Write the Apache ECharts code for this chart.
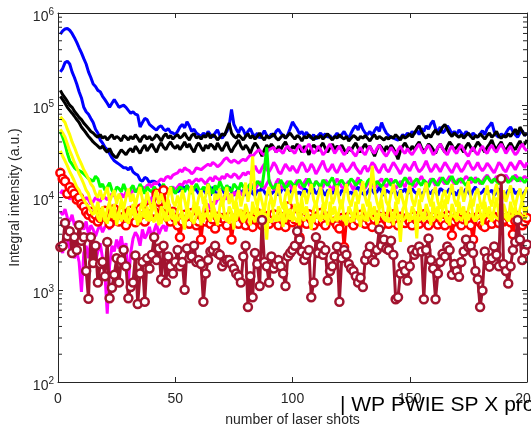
<!DOCTYPE html>
<html><head><meta charset="utf-8">
<script src="https://cdn.jsdelivr.net/npm/echarts@6/dist/echarts.min.js"></script>
<style>html,body{margin:0;padding:0;background:#fff}#c{width:531px;height:427px}</style>
</head><body><div id="c"></div>
<script>
const shots = Array.from({length: 200}, (_, i) => i + 1);

const blue1 = [590000,640000,670000,680000,650000,600000,540000,480000,420000,370000,
320000,280000,230000,200000,170000,160000,145000,140000,125000,115000,
105000,95000,105000,115000,105000,95000,98000,100000,95000,88000,
82000,85000,80000,78000,58000,65000,72000,70000,62000,59000,
56000,54000,58000,60000,55000,53000,56000,51000,50000,48000,
52000,58000,62000,57000,66000,60000,52000,55000,50000,48000,
46000,50000,47000,52000,48000,45000,50000,54000,47000,44000,
48000,52000,60000,90000,62000,55000,50000,58000,54000,47000,
52000,56000,49000,46000,50000,44000,48000,53000,47000,45000,
49000,46000,52000,55000,50000,47000,44000,48000,56000,66000,
60000,55000,49000,52000,47000,51000,46000,44000,48000,43000,
47000,50000,46000,49000,45000,47000,43000,46000,50000,45000,
48000,52000,47000,44000,50000,56000,60000,54000,64000,55000,
50000,48000,52000,47000,53000,58000,52000,65000,56000,50000,
47000,45000,44000,43000,42000,44000,48000,46000,50000,47000,
52000,49000,54000,48000,56000,52000,60000,55000,63000,68000,
56000,52000,58000,50000,53000,60000,55000,49000,52000,48000,
54000,50000,47000,52000,49000,46000,50000,47000,45000,49000,
53000,48000,56000,60000,65000,52000,47000,45000,49000,46000,
50000,55000,58000,52000,48000,45000,50000,53000,47000,50000];

const blue2 = [230000,250000,290000,300000,280000,230000,200000,170000,140000,120000,
95000,85000,80000,72000,65000,55000,50000,42000,39000,35000,
33000,30000,27000,25000,24000,23000,22000,21000,21000,20000,
21500,19000,18000,17500,15500,15000,16500,16000,14500,15000,
15000,14500,14000,13000,13000,12500,12000,12000,11500,12000,
11500,12000,13000,12500,13500,12500,11500,13000,12000,11000,
11500,12500,11000,12000,10500,13000,11500,10500,12000,12500,
11000,11500,13000,11500,10500,11500,12500,11000,12000,10500,
11500,12500,11000,10500,12000,11500,13000,11500,10500,12000,
11000,11500,12500,10500,11500,13000,12000,11000,11500,12500,
12000,11000,11500,10500,12500,12000,11000,11500,12500,11000,
11500,13000,11500,10500,12000,11500,11000,12500,11500,10500,
12000,11500,12500,11000,11500,10500,12000,13000,11500,11000,
10500,11500,12500,12000,11000,11500,13000,11500,10500,12000,
11500,11000,12500,11500,10500,12000,11500,12500,11000,11500,
12500,11500,11000,12000,10500,11500,13000,11500,11000,12000,
11500,10500,12500,12000,11000,11500,12500,11000,11500,10500,
12000,11500,11000,12500,11500,10500,12000,13000,11500,11000,
11500,12500,11000,11500,12000,10500,11500,12500,11000,11500,
10500,12000,11500,12500,11000,11500,12000,10500,11500,12500];

const black1 = [145000,130000,120000,110000,100000,95000,86000,80000,74000,70000,
64000,60000,56000,52000,50000,47000,45000,48000,44000,46000,
42000,45000,48000,43000,46000,44000,41000,47000,45000,42000,
46000,43000,48000,44000,40000,45000,47000,43000,46000,42000,
44000,48000,45000,41000,46000,49000,44000,47000,43000,46000,
48000,44000,46000,50000,45000,42000,47000,49000,44000,46000,
43000,47000,45000,50000,44000,48000,46000,42000,45000,49000,
47000,55000,64000,50000,46000,44000,48000,45000,42000,46000,
49000,44000,47000,43000,46000,50000,45000,42000,47000,44000,
46000,49000,44000,42000,45000,48000,44000,47000,50000,46000,
43000,47000,45000,41000,46000,44000,48000,45000,42000,46000,
44000,47000,43000,46000,49000,45000,42000,46000,44000,48000,
45000,43000,46000,41000,44000,47000,45000,42000,46000,44000,
47000,44000,41000,45000,48000,43000,46000,44000,42000,45000,
43000,46000,44000,48000,45000,42000,47000,44000,46000,49000,
45000,50000,55000,60000,52000,47000,44000,48000,45000,50000,
54000,48000,52000,58000,62000,55000,49000,46000,50000,47000,
45000,48000,44000,47000,50000,46000,43000,47000,45000,49000,
46000,43000,47000,50000,45000,48000,52000,46000,44000,47000,
45000,49000,46000,50000,55000,48000,58000,52000,47000,50000];

const black2 = [125000,115000,105000,95000,88000,82000,76000,70000,65000,58000,
54000,50000,46000,43000,40000,38000,36000,34000,36000,33000,
31000,34000,30000,28000,27000,30000,33000,31000,29000,32000,
34000,31000,36000,33000,30000,34000,37000,32000,35000,38000,
34000,31000,36000,39000,35000,33000,37000,40000,36000,34000,
37000,33000,36000,40000,35000,38000,34000,31000,36000,39000,
35000,32000,37000,34000,38000,36000,33000,39000,35000,32000,
36000,40000,34000,31000,35000,38000,42000,36000,33000,37000,
34000,30000,35000,39000,36000,32000,28000,33000,37000,34000,
38000,35000,31000,36000,33000,37000,40000,35000,32000,36000,
34000,38000,35000,31000,36000,33000,29000,34000,37000,35000,
32000,36000,39000,34000,31000,35000,38000,33000,36000,34000,
37000,33000,30000,35000,32000,36000,39000,34000,31000,35000,
38000,34000,36000,32000,28000,33000,37000,35000,31000,36000,
33000,37000,34000,30000,26000,32000,36000,39000,35000,32000,
36000,33000,37000,40000,35000,31000,34000,38000,36000,33000,
30000,35000,38000,34000,31000,36000,40000,37000,33000,35000,
38000,34000,31000,36000,39000,35000,32000,36000,40000,37000,
34000,31000,35000,38000,42000,36000,33000,37000,40000,35000,
32000,36000,39000,35000,33000,37000,41000,36000,38000,42000];

const magenta1 = [11000,12000,10000,11500,9500,10500,9000,10000,9500,8500,
9000,10000,9500,8500,9000,10000,9500,9000,10500,10000,
9500,10000,11000,10500,9500,10500,11000,10000,11500,10500,
11000,12000,11500,12500,12000,13000,12500,13500,14000,13000,
14500,14000,15000,16000,15000,16500,17000,16000,17500,18000,
18500,20000,19000,21000,20000,19500,18000,19000,21000,20500,
20000,21000,22000,23000,22000,24000,23000,21500,22500,24000,
26000,27000,25000,24000,25500,24500,23500,25000,26000,25000,
27000,29000,28000,30000,32000,33000,30000,29000,31000,33000,
34000,35000,31000,33000,32000,30000,34000,36000,33000,32000,
30000,34000,37000,33000,31000,35000,38000,34000,30000,32000,
36000,33000,29000,31000,35000,38000,34000,30000,33000,36000,
32000,29000,31000,35000,33000,30000,28000,32000,35000,31000,
29000,33000,36000,32000,30000,34000,37000,33000,30000,28000,
31000,35000,32000,29000,33000,36000,32000,30000,34000,31000,
29000,32000,35000,38000,33000,30000,34000,37000,33000,29000,
31000,35000,38000,34000,31000,29000,33000,36000,32000,30000,
34000,37000,33000,30000,28000,32000,35000,31000,29000,33000,
36000,32000,30000,34000,37000,33000,31000,35000,38000,34000,
30000,33000,36000,32000,29000,31000,35000,38000,34000,32000];

const magenta2 = [7000,6500,7500,6000,5500,6500,5000,5500,4500,5000,
4500,5500,4000,5000,4500,3800,4500,5000,4200,4800,
5000,4500,5500,5000,6000,5500,6500,6000,7000,6500,
7500,7000,8000,7500,8500,8000,9000,9500,8500,10000,
10500,10000,11000,11500,10500,12000,11500,12500,13000,12000,
13000,14000,13500,15000,14500,15500,14000,15000,16000,15000,
16000,15000,14000,15500,16500,15000,17000,16000,15500,17000,
16000,18000,17000,16500,18000,17500,16000,17000,18500,17500,
19000,18000,20000,22000,19500,18500,21000,23000,20000,19000,
21000,24000,22000,19000,18000,20500,23000,21000,19500,22000,
20000,18500,21500,24000,22000,19000,20000,23000,21000,18000,
20000,22500,25000,21000,19000,20500,23000,20000,18500,21000,
23500,21000,19000,20000,22000,24000,21000,19500,18000,20500,
22000,19000,21000,24000,22500,20000,18500,21000,23000,20000,
19000,21500,24000,22000,20000,18000,20500,23000,21000,19500,
22000,24500,21000,19000,20000,22000,25000,21500,19000,20500,
23000,21000,19000,21500,24000,22000,20000,18500,21000,23500,
21000,19000,20500,23000,25000,22000,20000,21500,24000,21000,
19500,21000,23500,22000,20000,18500,21000,24000,22500,20000,
19000,21500,24000,22000,20000,22500,25000,23000,21000,24000];

const magenta3 = [3000,2500,4000,3500,2800,3200,2200,2600,2000,950,
2500,3000,2200,3500,2800,2000,2600,3200,2200,1500,
550,1800,3000,2600,3500,2800,3800,2600,3200,1200,
2500,3600,4200,3800,3000,4500,3600,4000,4800,3600,
4400,5200,4000,4600,5000,4300,5500,5000,6000,5200,
6500,5800,7000,6500,7500,6200,6800,8000,7200,6500,
5500,7000,8000,8500,7500,9000,8500,9500,10000,9000,
10500,9500,11000,10000,11500,10500,12000,11000,10500,12000,
12500,13000,14000,12000,13500,15000,13000,12500,14000,15500,
13500,12000,14500,16000,13000,12500,14000,15000,13500,12000,
14000,15500,13000,12500,14500,16000,14000,12500,13500,15000,
14000,12500,13000,15500,14500,13000,12000,14000,16000,14500,
13000,12500,14000,15000,13500,12000,14500,16500,14000,13000,
12500,14000,15500,14000,12500,13500,15000,16000,14000,13000,
14500,16000,14000,12500,13500,15000,14000,13000,15500,16500,
14500,13000,14000,15500,17000,15000,13500,14500,16000,15000,
13500,15000,16500,15000,14000,15500,17000,15500,14000,15000,
16000,14500,15500,17000,16000,14500,15000,16500,15500,14000,
15000,16500,17500,16000,14500,15500,17000,16000,15000,16500,
17500,16000,15000,16000,17500,16500,15000,16000,17000,16000];

const green = [52000,45000,38000,30000,25000,23000,21000,20000,19500,19000,
18000,17000,16000,15500,15000,17000,16000,13000,14000,12000,
13000,14500,12000,11000,13000,12500,11500,14000,12000,11000,
12500,13500,11500,12000,14000,12500,11000,13000,12000,11500,
13000,12000,11000,12500,14000,12000,11500,13000,12500,11000,
12000,13000,12500,11500,13500,12000,11000,12500,14000,12500,
11500,13000,12000,14000,12500,11000,13500,12000,15000,13000,
12000,13500,12500,11500,14000,13000,12000,14500,13000,12000,
13000,14000,12500,13500,15000,14000,13000,20000,35000,15000,
13000,12500,14000,13000,15500,14000,12500,13500,15000,14000,
13000,14500,15500,14000,13000,14500,16000,14000,13000,15000,
14000,13000,15500,14500,13500,15000,16500,14000,13000,14500,
15500,14000,13000,14500,16000,15000,13500,14500,15500,14000,
13000,15000,16000,14500,13500,15000,14000,13000,14500,16000,
15000,13500,14500,15500,14000,13000,15000,16500,15000,14000,
13500,15000,16000,14500,13500,15500,14500,13000,15000,16000,
14500,13500,15000,16500,15000,14000,15500,17000,15000,14000,
15500,16000,14500,13500,15000,16500,15500,14500,16000,15000,
14000,15500,17000,15500,14500,16000,15000,14000,15500,17000,
16000,14500,15500,17000,16000,15000,16500,15500,14500,16000];

const red = [18500,16000,15000,11000,13000,12000,11000,9500,10000,8500,
8000,7000,6500,7000,6000,6500,5500,6000,6800,7200,
6000,5200,6500,7500,6000,5500,7000,6200,5000,6500,
7200,6000,5400,6800,7500,6200,5500,6600,7800,6400,
7000,11000,9000,6500,12000,8000,6000,5500,7000,6000,
5000,3700,5500,6500,5800,5200,6800,6000,5000,5500,
3500,6000,5500,6500,5200,5800,4600,6200,5500,6000,
5800,5000,6200,3500,5500,6000,5200,6500,5800,5000,
6200,5500,4800,6000,6800,5600,5000,6400,5800,5200,
6000,6600,5500,5000,6200,5700,4800,8000,6000,5400,
5800,6400,3700,5500,6000,5200,6600,5800,5000,6200,
5600,6800,5400,5000,6200,5800,6400,5500,5000,4600,
6000,2900,5600,6200,5400,5000,6000,5600,6500,5800,
5200,6000,5500,4800,5800,6400,5600,5000,6200,5700,
5200,6000,6600,5500,5000,6200,5800,5300,6000,5500,
5000,6300,5700,5200,6000,6600,5400,5000,5800,6200,
5600,5100,6000,5500,5000,6400,5700,3900,5500,6100,
5600,5000,5800,6300,5500,5000,3500,5800,6200,5400,
5000,4800,6000,5600,5200,6200,5800,5300,6000,5500,
5700,6200,5400,4000,5600,6300,5800,5000,5500,6000];

const yellow1 = [75000,70000,65000,55000,48000,40000,35000,30000,26000,23000,
20000,18000,16000,14000,13000,11000,10000,12000,9500,11000,
13000,9000,10500,12000,8500,11000,9500,7500,10000,12500,
9000,11000,8000,10500,13000,9500,8000,11500,9000,7000,
10000,12000,8500,11000,9000,7500,10500,13000,9000,8000,
10500,8000,12000,9500,7000,11000,13500,9000,7500,10000,
12000,8500,10500,14000,9000,7000,11000,9500,12500,8000,
10000,13000,8500,11000,7500,9500,12000,8000,10500,14500,
9000,12000,28000,10000,8000,11500,9000,7000,10500,13000,
9500,8000,11000,14000,9000,7500,10500,12500,8500,11000,
13500,9000,7000,10000,12000,8500,11000,14000,9500,8000,
10500,13000,9000,7500,11000,12500,8500,10000,13500,9000,
7500,11000,14000,9500,8000,10500,12000,8500,11500,15000,
10000,8000,11000,22000,12000,9000,7500,10500,13000,9000,
8000,11000,14000,10000,8500,12000,9500,7500,11000,13500,
9500,8000,10500,12500,9000,11000,14500,10000,8000,11500,
13000,9000,7500,10500,12000,8500,11000,14000,9500,8000,
10500,13000,9000,11500,15000,10000,8000,11000,12500,9000,
7500,10500,13500,9500,8000,11000,14000,10000,8500,12000,
9000,11000,13500,9500,8000,10500,12500,9000,11000,13000];

const yellow2 = [55000,50000,45000,38000,32000,28000,24000,21000,18000,16000,
14000,12000,11000,9000,8000,7000,9000,6000,8000,5500,
7500,9000,6000,8500,5000,7000,9500,6500,5500,8000,
6000,8500,7000,5000,7500,9000,6000,8000,5500,7000,
9000,6500,5000,8000,7000,5500,9500,6500,7500,5000,
7000,9500,6000,4500,8000,7000,5500,9000,6500,8000,
5000,7500,9500,6500,5500,8500,7000,5000,8000,10000,
6500,5500,8000,7000,4500,9000,6500,7500,5500,8500,
7000,5000,9000,6500,8000,5500,7500,6000,3500,8500,
10000,6500,5500,8000,7000,4800,9000,6500,7500,5500,
8500,7000,5000,9500,6500,8000,6000,4500,7500,9000,
6500,5500,8500,7000,5000,9000,6500,8000,5500,7500,
9500,6000,5000,8000,7000,5500,9000,6500,4800,8500,
7000,5500,9000,6500,8000,5000,7500,9500,6000,5500,
8500,7000,5000,9000,6500,3300,7500,8500,6000,5500,
8000,7000,3600,9500,6500,5500,8500,7000,5000,9000,
6500,8000,5500,7500,9500,6000,5000,8500,7000,5500,
9000,6500,8000,5000,7500,9500,6000,5500,8500,7000,
5000,9000,6500,8000,5500,7500,10000,6500,5000,8500,
7000,5500,9000,6500,8000,5500,7500,9500,6500,8000];

const yellow3 = [32000,28000,25000,22000,19000,17000,15000,13000,12000,10500,
9500,8500,8000,7000,6500,7500,6000,5500,7000,6000,
5200,6500,7500,5800,6200,7000,5500,6800,6000,5200,
6600,7400,5800,6200,5400,7000,6400,5600,7200,6000,
5400,6800,6000,5200,7000,6200,5600,6600,5800,6400,
5600,6200,7000,5400,6000,6800,5800,5200,6400,7200,
6000,5400,6800,6200,5600,7000,6000,5400,6600,6200,
5800,6400,5200,6800,6000,5600,7200,6200,5400,6000,
6600,5800,6200,5400,7000,6000,5600,6800,6200,5800,
5400,6400,6000,5600,6800,6200,5400,6600,5800,6400,
6000,5400,6800,6200,5600,6400,5800,6200,5400,6600,
6000,5600,6400,5800,6200,6800,5400,6000,6600,5800,
6200,5600,6400,6000,5400,6800,6200,5800,6000,6400,
5600,6200,6800,5800,6000,5400,6400,6600,5800,6200,
5400,6000,6600,6200,5800,6400,5600,6000,6800,6200,
5800,6400,6000,5600,6200,6800,5800,6200,6000,5600,
6400,6000,5800,6600,6200,5400,6000,6400,6200,5800,
6200,5600,6400,6000,5800,6600,6200,5600,6000,6400,
5800,6200,6600,6000,5600,6400,6000,5800,6200,6600,
6000,5600,6200,6400,5800,6000,6600,6200,5800,6400];

const darkred = [2900,3000,5300,3800,4300,2500,3700,2700,5000,3400,
3700,1600,800,3700,1950,3000,1200,1900,2000,1400,
3300,810,1050,1450,2200,1200,2100,2700,1800,810,
1070,1200,2350,700,1500,2000,740,2200,1700,2400,
3700,2100,2800,1300,3000,1200,2300,1800,1500,2000,
2700,1800,2000,1000,2800,2200,2300,3000,2000,2100,
1900,740,1500,2100,2600,2700,3000,2500,2400,1800,
2000,2100,2100,1900,1700,1500,1400,1200,2300,3000,
650,1400,830,2500,1900,1100,5700,2000,1800,1200,
2300,1700,1900,2100,1800,1500,1100,2300,2500,2700,
3000,4300,3500,2600,2100,2400,2700,830,1200,3700,
2500,3000,2400,2700,1260,1600,1800,2300,2950,740,
2200,2700,2400,1900,1700,1600,1400,1200,1350,1070,
2100,2450,2950,2100,2000,2700,4500,3000,3500,2800,
2700,3400,2400,790,830,1500,1850,1600,1260,1800,
2700,2400,2600,2950,2600,790,2700,3600,2100,1700,
790,1500,2000,2450,2300,2950,2700,1450,1900,1600,
1380,2000,2600,3500,2900,3000,2500,1600,1300,650,
980,2600,2200,1780,2200,2950,2400,1800,16000,1900,
1600,1170,1800,2700,3300,5700,3500,2100,2600,3100];

const xTicks = [0, 50, 100, 150, 200];
const yMin = 100, yMax = 1000000;
const minorTickVals = [];
for (let d = 100; d < yMax; d *= 10) for (let m = 2; m <= 9; m++) minorTickVals.push(m * d);

const FONT = '"Liberation Sans", Arial, Helvetica, sans-serif';
const AX = '#262626';

const seriesDefs = [
  {name: 'blue1', data: blue1, color: '#0000ff'},
  {name: 'blue2', data: blue2, color: '#0000ff'},
  {name: 'black1', data: black1, color: '#000000'},
  {name: 'black2', data: black2, color: '#000000'},
  {name: 'magenta1', data: magenta1, color: '#ff00ff'},
  {name: 'magenta2', data: magenta2, color: '#ff00ff'},
  {name: 'magenta3', data: magenta3, color: '#ff00ff'},
  {name: 'green', data: green, color: '#00ff00'},
  {name: 'red', data: red, color: '#ff0000', marker: true},
  {name: 'yellow3', data: yellow3, color: '#ffff00'},
  {name: 'yellow1', data: yellow1, color: '#ffff00'},
  {name: 'yellow2', data: yellow2, color: '#ffff00'},
  {name: 'darkred', data: darkred, color: '#a2142f', marker: true}
];

const series = seriesDefs.map((s, idx) => ({
  name: s.name,
  type: 'line',
  data: s.data.map((v, i) => [shots[i], v]),
  showSymbol: !!s.marker,
  symbol: 'circle',
  symbolSize: 8,
  itemStyle: s.marker ? {color: '#ffffff', borderColor: s.color, borderWidth: 2.5} : {color: s.color},
  lineStyle: {color: s.color, width: 3},
  emphasis: {disabled: true},
  silent: true,
  z: 2 + idx
}));

series.push({
  type: 'custom',
  silent: true,
  z: 30,
  data: minorTickVals.map(v => [0, v]),
  renderItem: function (params, api) {
    const y = api.coord([0, api.value(1)])[1];
    const cs = params.coordSys;
    return {type: 'group', children: [
      {type: 'line', shape: {x1: cs.x, y1: y, x2: cs.x + 4, y2: y}, style: {stroke: AX, lineWidth: 1}},
      {type: 'line', shape: {x1: cs.x + cs.width, y1: y, x2: cs.x + cs.width - 4, y2: y}, style: {stroke: AX, lineWidth: 1}}
    ]};
  }
});

const chart = echarts.init(document.getElementById('c'), null, {renderer: 'canvas'});
chart.setOption({
  animation: false,
  backgroundColor: '#ffffff',
  textStyle: {fontFamily: FONT},
  grid: {left: 58, right: 4, top: 13, bottom: 45, containLabel: false, outerBoundsMode: 'none'},
  xAxis: [{
    type: 'value', min: xTicks[0], max: xTicks[xTicks.length - 1], interval: 50,
    position: 'bottom',
    name: 'number of laser shots', nameLocation: 'middle', nameGap: 31,
    nameTextStyle: {fontSize: 14, color: AX, fontFamily: FONT},
    axisLine: {show: true, onZero: false, lineStyle: {color: AX, width: 1}},
    axisTick: {show: true, inside: true, length: 5, lineStyle: {color: AX}},
    axisLabel: {fontSize: 14, color: AX, margin: 10, fontFamily: FONT},
    splitLine: {show: false}
  }, {
    type: 'value', min: xTicks[0], max: xTicks[xTicks.length - 1], interval: 50,
    position: 'top',
    axisLine: {show: true, onZero: false, lineStyle: {color: AX, width: 1}},
    axisTick: {show: true, inside: true, length: 5, lineStyle: {color: AX}},
    axisLabel: {show: false},
    splitLine: {show: false}
  }],
  yAxis: [{
    type: 'log', logBase: 10, min: yMin, max: yMax,
    position: 'left',
    name: 'Integral intensity (a.u.)', nameLocation: 'middle', nameGap: 29,
    nameTextStyle: {fontSize: 14, color: AX, fontFamily: FONT},
    axisLine: {show: true, onZero: false, lineStyle: {color: AX, width: 1}},
    axisTick: {show: true, inside: true, length: 5, lineStyle: {color: AX}},
    axisLabel: {
      margin: 4, padding: [8, 0, 0, 0],
      formatter: function (v) { return '{b|10}{s|' + Math.round(Math.log10(v)) + '}'; },
      rich: {
        b: {fontSize: 14, lineHeight: 20, color: AX, fontFamily: FONT},
        s: {fontSize: 10, lineHeight: 10, verticalAlign: 'top', color: AX, fontFamily: FONT}
      }
    },
    splitLine: {show: false}
  }, {
    type: 'log', logBase: 10, min: yMin, max: yMax,
    position: 'right',
    axisLine: {show: true, onZero: false, lineStyle: {color: AX, width: 1}},
    axisTick: {show: true, inside: true, length: 5, lineStyle: {color: AX}},
    axisLabel: {show: false},
    splitLine: {show: false}
  }],
  graphic: [{
    type: 'text', left: 340, top: 395, silent: true, z: 50,
    style: {text: '| WP PWIE SP X pro', fontSize: 21, fill: '#000000', fontFamily: FONT}
  }],
  series: series
});
</script></body></html>
